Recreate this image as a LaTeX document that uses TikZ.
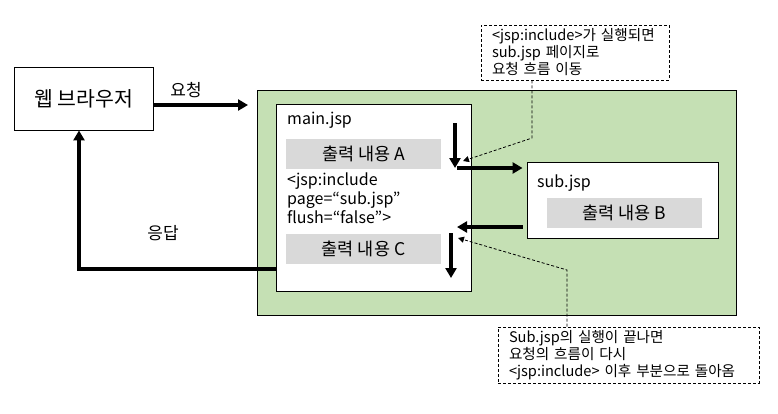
\documentclass[tikz,border=0pt]{standalone}
\usepackage{fontspec}
\setmainfont{Noto Sans CJK KR}
\usepackage{tikz}
\usetikzlibrary{
  arrows.meta,
  positioning,
}
\definecolor{stageBg}{HTML}{C5E0B4}
\definecolor{outGray}{HTML}{D9D9D9}
\tikzset{
  browserbox/.style={
    rectangle, draw=black, line width=0.9pt, fill=white,
    minimum width=139pt, minimum height=63pt, inner sep=0pt,
    font=\fontsize{20.5}{24}\selectfont,
  },
  stagebox/.style={
    rectangle, draw=black, line width=0.9pt, fill=stageBg,
    minimum width=479pt, minimum height=225pt, inner sep=0pt,
  },
  jspbox/.style={
    rectangle, draw=black, line width=0.9pt, fill=white, inner sep=0pt,
  },
  outbox/.style={
    rectangle, draw=none, fill=outGray, inner sep=0pt,
    minimum width=155pt, minimum height=30pt,
    font=\fontsize{17.5}{20}\selectfont,
  },
  codetxt/.style={
    anchor=west, inner sep=0pt, align=left,
    font=\fontsize{16}{19}\selectfont,
  },
  notebox/.style={
    rectangle, draw=black, dash pattern=on 3pt off 2pt, line width=0.8pt,
    fill=white, inner xsep=11pt, inner ysep=0pt, align=left,
    font=\fontsize{14.6}{17}\selectfont,
  },
  lbl/.style={
    inner sep=0pt, font=\fontsize{17}{20}\selectfont,
  },
  arrowBig/.style={
    -{Triangle[length=10pt,width=11pt]}, line width=3.5pt, draw=black,
  },
  arrowNote/.style={
    -{Triangle[length=6pt,width=6pt]}, line width=0.8pt, draw=black,
    dash pattern=on 3pt off 2pt,
  },
}

\begin{document}
\begin{tikzpicture}[x=1pt, y=-1pt]
\useasboundingbox (0,0) rectangle (778,413);

% boxes
\node[browserbox] (browser) at (83.5,98.5) {웹 브라우저};
\node[stagebox] (stage) at (496.5,202.5) {};
\node[jspbox, minimum width=195pt, minimum height=187pt] (main) at (373.5,197.5) {};
\node[jspbox, minimum width=191pt, minimum height=76pt] (sub) at (622.5,200) {};

\node[codetxt] (mainname) at (287,120) {main.jsp};
\node[codetxt] (subname) at (537,183) {sub.jsp};
\node[codetxt] (incl) at (287,198)
  {<jsp:include\\page=“sub.jsp”\\flush=“false”>};

\foreach \n/\x/\y/\t in {outA/363.5/154/A, outB/624.5/212.5/B, outC/363.5/249/C}
  \node[outbox] (\n) at (\x,\y) {출력 내용 \t};

% notes
\node[notebox, minimum width=188pt, minimum height=55pt, text width=166pt]
  (noteTop) at (575,52.5)
  {<jsp:include>가 실행되면\\sub.jsp 페이지로\\요청 흐름 이동};
\node[notebox, minimum width=261pt, minimum height=56pt, text width=239pt]
  (noteBot) at (628.5,355)
  {Sub.jsp의 실행이 끝나면\\요청의 흐름이 다시\\<jsp:include> 이후 부분으로 돌아옴};

\node[lbl] (reqlbl) at (186,90) {요청};
\node[lbl] (reslbl) at (163,233) {응답};

% flow
\coordinate (reqEnd) at (248,105);
\coordinate (aTop) at (455,123);
\coordinate (aBot) at (455,168);
\coordinate (callS) at (457,168);
\coordinate (backE) at (457,227);
\coordinate (cTop) at (451,233);
\coordinate (cBot) at (451,278);
\coordinate (resp) at (79,269);

\draw[arrowBig] (browser.east |- reqEnd) -- (reqEnd);
\draw[arrowBig] (aTop) -- (aBot);
\draw[arrowBig, shorten >=4pt] (callS) -- (callS -| sub.west);
\draw[arrowBig, shorten <=4pt] (backE -| sub.west) -- (backE);
\draw[arrowBig] (cTop) -- (cBot);
\draw[arrowBig] (main.west |- resp) -- (resp) -- (resp |- browser.south);

% note pointers
\coordinate (tBend) at (532,138);
\coordinate (tTip) at (463,161);
\coordinate (bBend) at (567,270);
\coordinate (bTip) at (458,238);
\draw[arrowNote] (tBend |- noteTop.south) -- (tBend) -- (tTip);
\draw[arrowNote] (bBend |- noteBot.north) -- (bBend) -- (bTip);

\end{tikzpicture}
\end{document}
